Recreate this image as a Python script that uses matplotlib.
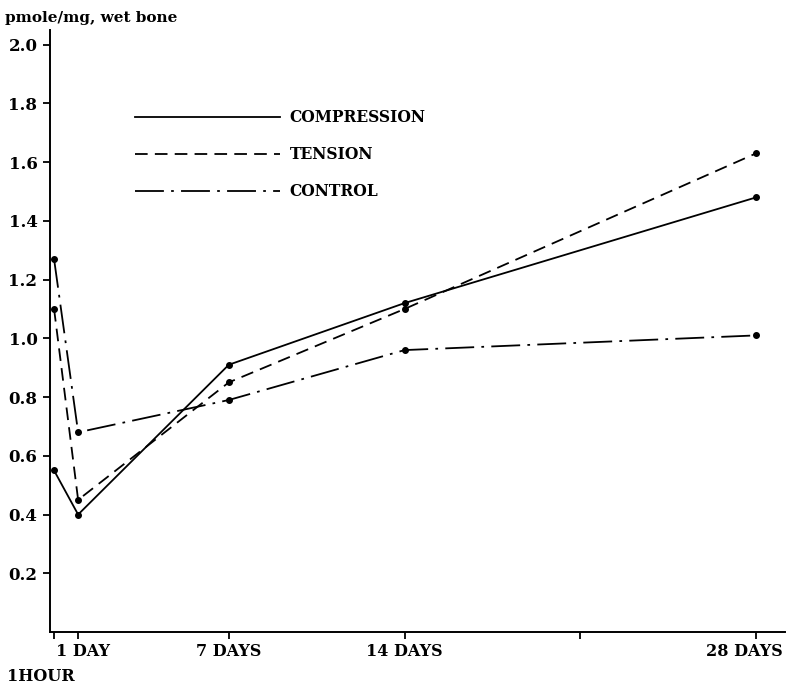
import matplotlib

matplotlib.use("Agg")
import matplotlib.pyplot as plt
from matplotlib.lines import Line2D
from matplotlib.transforms import ScaledTranslation

# time in days (1 hour ~ 0.042 day)
days = [0.042, 1, 7, 14, 28]
compression = [0.55, 0.40, 0.91, 1.12, 1.48]
tension = [1.10, 0.45, 0.85, 1.10, 1.63]
control = [1.27, 0.68, 0.79, 0.96, 1.01]

x_ticks = [0.042, 1, 7, 14, 21, 28]
x_labels = ["1HOUR", "1 DAY", "7 DAYS", "14 DAYS", "", "28 DAYS"]
y_ticks = [0.2, 0.4, 0.6, 0.8, 1.0, 1.2, 1.4, 1.6, 1.8, 2.0]

FONT = "DejaVu Serif"
plt.rcParams["font.family"] = FONT
plt.rcParams["font.weight"] = "bold"

fig = plt.figure(figsize=(7.9, 6.85), dpi=100)
ax = fig.add_axes([50 / 790, 1 - 632 / 685, 735 / 790, 602 / 685])

style = dict(color="black", marker="o", markersize=4, linewidth=1.3)
ax.plot(days, compression, linestyle="-", label="COMPRESSION", **style)
ax.plot(days, tension, linestyle=(0, (7, 4)), label="TENSION", **style)
ax.plot(days, control, linestyle=(0, (16, 4, 1.5, 4)), label="CONTROL", **style)

ax.set_xlim(-0.12, 29.15)
ax.set_ylim(0.0, 2.05)

ax.set_yticks(y_ticks)
ax.set_yticklabels([f"{v:.1f}" for v in y_ticks], fontsize=12, fontweight="bold")
ax.set_xticks(x_ticks)
ax.set_xticklabels(x_labels, fontsize=11.5, fontweight="bold")
ax.tick_params(axis="y", direction="out", length=5, width=1.3, pad=4)
ax.tick_params(axis="x", direction="out", length=5, width=1.3, pad=3)

# nudge labels as set in the original print
nudges = {0: (-13, -25), 1: (5, 0), 5: (-12, 0)}
xlabels = ax.get_xticklabels()
for i, (dx, dy) in nudges.items():
    lbl = xlabels[i]
    lbl.set_transform(lbl.get_transform() + ScaledTranslation(dx / 100, dy / 100, fig.dpi_scale_trans))

for side in ("top", "right"):
    ax.spines[side].set_visible(False)
for side in ("left", "bottom"):
    ax.spines[side].set_linewidth(1.4)

handles = [
    Line2D([], [], color="black", linewidth=1.3, linestyle="-"),
    Line2D([], [], color="black", linewidth=1.3, linestyle=(0, (7, 4))),
    Line2D([], [], color="black", linewidth=1.3, linestyle=(0, (16, 4, 1.5, 4))),
]
ax.legend(
    handles,
    ["COMPRESSION", "TENSION", "CONTROL"],
    loc="upper left",
    bbox_to_anchor=(135 / 790, 1 - 109 / 685),
    bbox_transform=fig.transFigure,
    frameon=False,
    handlelength=9.3,
    handletextpad=0.65,
    labelspacing=1.3,
    borderpad=0,
    borderaxespad=0,
    prop={"family": FONT, "weight": "bold", "size": 11.2},
)

fig.text(5 / 790, 1 - 18 / 685, "pmole/mg, wet bone", fontsize=11, fontweight="bold", va="center", ha="left")

fig.savefig("out.png", dpi=100, facecolor="white")
